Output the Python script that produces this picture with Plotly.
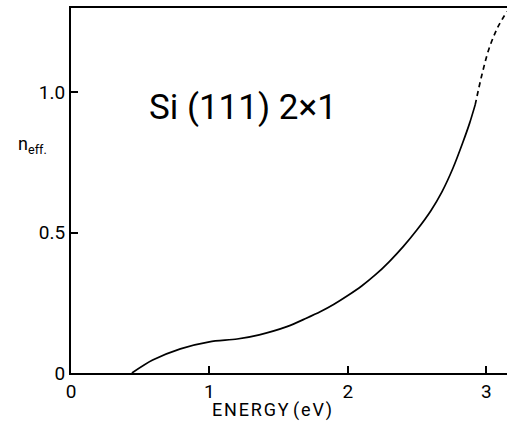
import plotly.graph_objects as go

# Solid part of the curve
energy_solid = [0.44, 0.59, 0.79, 1.00, 1.20, 1.36, 1.56, 1.70, 1.80, 1.90, 2.00, 2.10, 2.20, 2.30,
                2.40, 2.50, 2.60, 2.68, 2.76, 2.83, 2.88, 2.92]
neff_solid = [0.0, 0.046, 0.086, 0.111, 0.121, 0.136, 0.165, 0.195, 0.218, 0.245, 0.276, 0.31, 0.35, 0.397,
              0.45, 0.51, 0.578, 0.645, 0.73, 0.82, 0.89, 0.955]
# Dashed extrapolation
energy_dash = [2.92, 2.97, 3.02, 3.08, 3.15]
neff_dash = [0.955, 1.065, 1.155, 1.228, 1.288]

x_ticks = [0, 1, 2, 3]
x_ticklabels = ["0", "1", "2", "3"]
y_ticks = [0, 0.5, 1.0]
y_ticklabels = ["0", "0.5", "1.0"]

FONT = "Roboto"
HS = "\u200a"

fig = go.Figure()
fig.add_trace(go.Scatter(x=energy_solid, y=neff_solid, mode="lines",
                         line=dict(color="black", width=1.7, shape="spline", smoothing=0.8),
                         showlegend=False, hoverinfo="skip"))
fig.add_trace(go.Scatter(x=energy_dash, y=neff_dash, mode="lines",
                         line=dict(color="black", width=1.7, dash="5px,4px", shape="spline"),
                         showlegend=False, hoverinfo="skip"))

fig.update_layout(
    width=507, height=432,
    margin=dict(l=71, r=0, t=8, b=59),
    paper_bgcolor="white", plot_bgcolor="white",
    font=dict(family=FONT, color="black"),
    xaxis=dict(range=[0, 3.15], tickvals=x_ticks, ticktext=x_ticklabels,
               showline=True, linecolor="black", linewidth=2, mirror=True,
               ticks="inside", ticklen=7, tickwidth=1.5, tickcolor="black",
               showgrid=False, zeroline=False, tickfont=dict(size=19, family=FONT)),
    yaxis=dict(range=[0, 1.30], tickvals=y_ticks, ticktext=y_ticklabels,
               showline=True, linecolor="black", linewidth=2,
               ticks="inside", ticklen=7, tickwidth=1.5, tickcolor="black",
               showgrid=False, zeroline=False, tickfont=dict(size=19, family=FONT)),
    annotations=[
        dict(text="Si (111) 2×1", x=1.24, y=0.946, xref="x", yref="y",
             xanchor="center", yanchor="middle",
             showarrow=False, font=dict(size=35, family=FONT)),
        dict(text="n<sub>eff.</sub>", x=(32 - 71) / 436, y=(373 - 145) / 365,
             xref="paper", yref="paper", xanchor="center", yanchor="middle",
             showarrow=False, font=dict(size=18, family=FONT)),
        dict(text=HS.join("ENERGY") + " " + HS.join("(eV)"), x=(272 - 71) / 436, y=-(410 - 373) / 365,
             xref="paper", yref="paper", xanchor="center", yanchor="middle",
             showarrow=False, font=dict(size=18, family=FONT)),
    ],
)

fig.write_html("out.html")
